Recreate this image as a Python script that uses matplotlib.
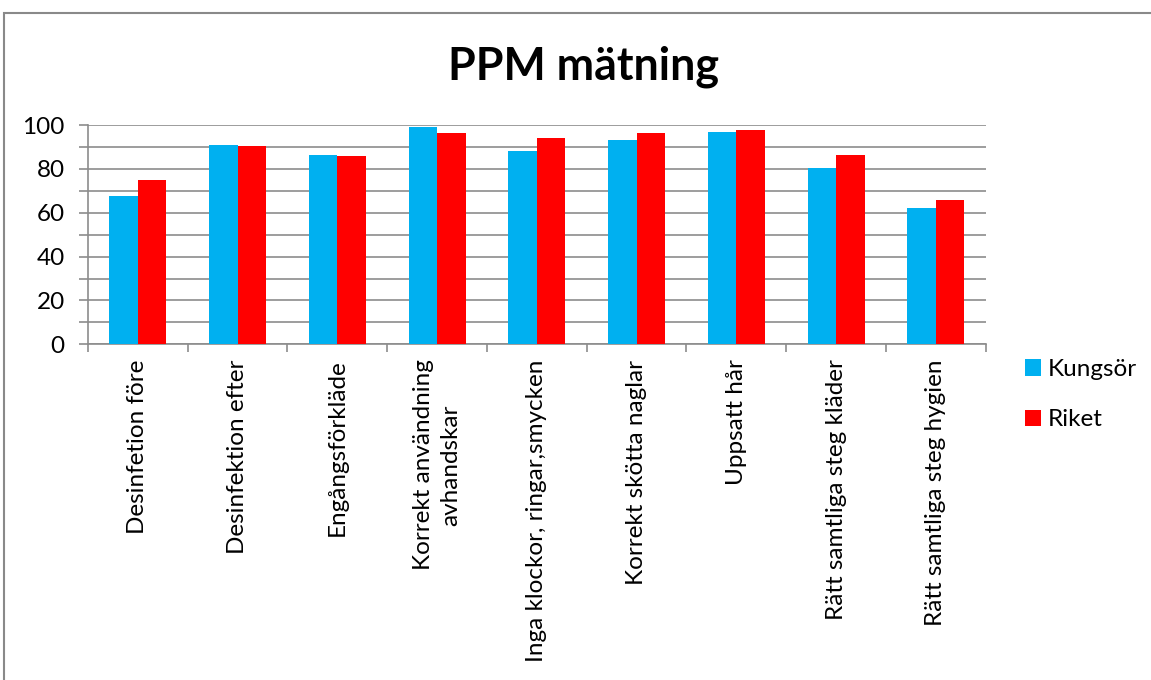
import matplotlib
matplotlib.use("Agg")
import matplotlib.pyplot as plt
import matplotlib.patches as mpatches
import numpy as np

categories = [
    "Desinfetion före",
    "Desinfektion efter",
    "Engångsförkläde",
    "Korrekt användning\navhandskar",
    "Inga klockor, ringar,smycken",
    "Korrekt skötta naglar",
    "Uppsatt hår",
    "Rätt samtliga steg kläder",
    "Rätt samtliga steg hygien",
]
kungsor = [67.6, 90.9, 86.3, 99.1, 88.1, 93.2, 96.8, 80.4, 62.2]
riket = [74.9, 90.4, 85.9, 96.4, 94.1, 96.4, 97.7, 86.3, 65.8]
series_names = ["Kungsör", "Riket"]
colors = ["#00B0F0", "#FF0000"]
yticks = list(range(0, 101, 10))

plt.rcParams['font.family'] = ['Lato', 'DejaVu Sans']

W, H = 1151, 680
fig = plt.figure(figsize=(W / 100, H / 100), dpi=100)
ax = fig.add_axes([88 / W, 1 - 344.3 / H, (985.7 - 88) / W, (344.3 - 125) / H])

x = np.arange(len(categories))
w = 0.285
ax.bar(x - w / 2, kungsor, w, color=colors[0], label=series_names[0], zorder=3)
ax.bar(x + w / 2, riket, w, color=colors[1], label=series_names[1], zorder=3)

ax.set_xlim(-0.5, len(categories) - 0.5)
ax.set_ylim(0, 100)
grid_c = "#8C8C8C"
ax.set_yticks(yticks)
ax.set_yticklabels([str(v) if v % 20 == 0 else "" for v in yticks], fontsize=17.5)
ax.yaxis.grid(True, color=grid_c, linewidth=1.2, zorder=0)
ax.tick_params(axis='y', length=6.8, width=1.2, color=grid_c, pad=10, labelcolor='black')

ax.set_xticks(x)
ax.set_xticklabels(categories, rotation=90, fontsize=17.5, va='top', ha='center',
                   multialignment='center', linespacing=1.4)
ax.set_xticks(np.arange(-0.5, len(categories), 1.0), minor=True)
ax.tick_params(axis='x', which='major', length=0, pad=11)
ax.tick_params(axis='x', which='minor', length=5.5, width=1.2, color=grid_c)

for s in ['top', 'right']:
    ax.spines[s].set_visible(False)
for s in ['left', 'bottom']:
    ax.spines[s].set_color(grid_c)
    ax.spines[s].set_linewidth(1.2)

fig.text(584 / W, 1 - 80 / H, "PPM mätning", fontsize=32.2, fontweight='bold',
         ha='center', va='baseline')

fig.legend(loc='upper left', bbox_to_anchor=(1025 / W, 1 - 359 / H), frameon=False,
           fontsize=17.5, handlelength=0.65, handleheight=0.65, handletextpad=0.3,
           labelspacing=1.2, borderaxespad=0, borderpad=0)

frame = mpatches.Rectangle((4 / W, -0.1), 1.2, 1 - 12.5 / H + 0.1, transform=fig.transFigure,
                           fill=False, edgecolor="#898989", linewidth=1.5, clip_on=False)
fig.patches.append(frame)

fig.savefig("out.png", dpi=100)
